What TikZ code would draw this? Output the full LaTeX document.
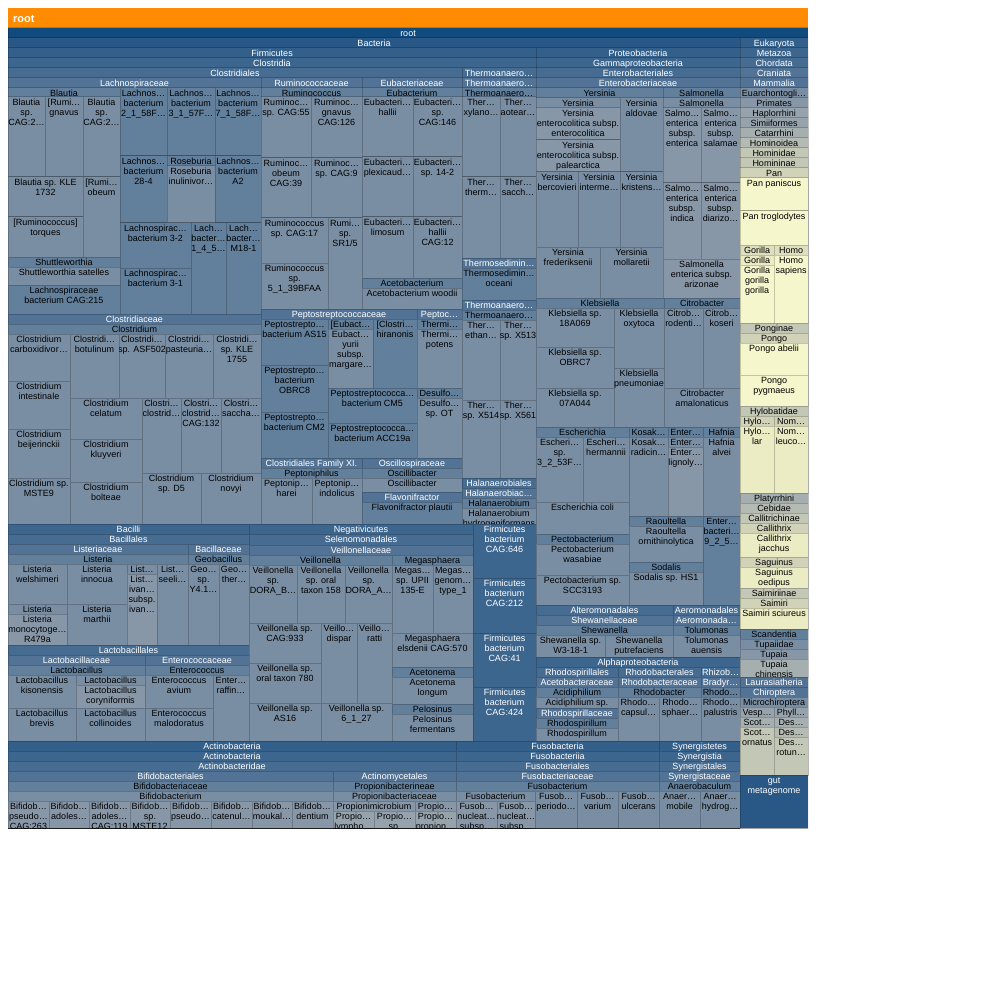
\documentclass[tikz,border=0pt]{standalone}
\usepackage{fontspec}
\setmainfont{Liberation Sans}

% shade levels of the treemap, dark blue to pale yellow
\definecolor{L0}{HTML}{114B7E}
\definecolor{L1}{HTML}{2A5886}
\definecolor{L2}{HTML}{33608B}
\definecolor{L3}{HTML}{3D668F}
\definecolor{L4}{HTML}{476C92}
\definecolor{L5}{HTML}{527395}
\definecolor{L6}{HTML}{627F9B}
\definecolor{L7}{HTML}{7A8EA3}
\definecolor{L8}{HTML}{8797A8}
\definecolor{L9}{HTML}{96A3AC}
\definecolor{L10}{HTML}{A5AFAF}
\definecolor{L11}{HTML}{B4BBB2}
\definecolor{L12}{HTML}{C3C7B5}
\definecolor{L13}{HTML}{D1D3B9}
\definecolor{L14}{HTML}{DEDFBE}
\definecolor{L15}{HTML}{EBEBC4}
\definecolor{L16}{HTML}{F6F6CC}
\definecolor{titlebar}{HTML}{FF8C00}

% one cell: x1 y1 x2 y2 level text
\newcounter{cellno}
\newcommand\cell[6]{%
  \stepcounter{cellno}%
  \ifnum#5<6 \def\cellcol{white}\else\def\cellcol{black}\fi
  \begin{scope}
    \clip (#1,#2) rectangle (#3,#4);
    \filldraw[fill=L#5, border] (#1,#2) rectangle (#3,#4);
    \node[lbl, text=\cellcol] (cell\thecellno) at ({(#1+#3)/2},#2+1) {\rule{0pt}{7pt}#6};
  \end{scope}}

\begin{document}
\begin{tikzpicture}[x=1pt, y=-1pt,
                    border/.style={draw=black, draw opacity=0.2, line width=1pt},
                    lbl/.style={anchor=north, inner sep=0pt, align=center,
                                font=\fontsize{9}{10}\selectfont}]
    \useasboundingbox (0,0) rectangle (1000,1000);
    \fill[white] (0,0) rectangle (1000,1000);
    \fill[titlebar] (8,8) rectangle (808,28);
    \node[anchor=base west, inner sep=0pt, text=white,
          font=\bfseries\fontsize{11}{13}\selectfont] (title) at (13,22.5) {root};

    \cell{8}{28}{808}{828}{0}{root}
    \cell{8}{38}{740}{828}{1}{Bacteria}
    \cell{8}{48}{536}{741}{2}{Firmicutes}
    \cell{8}{58}{536}{524}{3}{Clostridia}
    \cell{8}{68}{462}{524}{4}{Clostridiales}

    % Lachnospiraceae
    \cell{8}{78}{261}{314}{5}{Lachnospiraceae}
    \cell{8}{88}{120}{257}{6}{Blautia}
    \cell{8}{97}{45}{177}{7}{Blautia\\sp.\\CAG:2…}
    \cell{45}{97}{83}{177}{7}{[Rumi…\\gnavus}
    \cell{83}{97}{120}{177}{7}{Blautia\\sp.\\CAG:2…}
    \cell{8}{177}{83}{217}{7}{Blautia sp. KLE\\1732}
    \cell{8}{217}{83}{257}{7}{[Ruminococcus]\\torques}
    \cell{83}{177}{120}{257}{7}{[Rumi…\\obeum}
    \cell{8}{257}{120}{285}{6}{Shuttleworthia}
    \cell{8}{267}{120}{285}{7}{Shuttleworthia satelles}
    \cell{8}{285}{120}{314}{6}{Lachnospiraceae\\bacterium CAG:215}
    \cell{120}{88}{167}{156}{6}{Lachnos…\\bacterium\\2\_1\_58F…}
    \cell{167}{88}{215}{156}{6}{Lachnos…\\bacterium\\3\_1\_57F…}
    \cell{215}{88}{261}{156}{6}{Lachnos…\\bacterium\\7\_1\_58F…}
    \cell{120}{156}{167}{223}{6}{Lachnos…\\bacterium\\28-4}
    \cell{167}{156}{215}{223}{6}{Roseburia}
    \cell{167}{166}{215}{223}{7}{Roseburia\\inulinivor…}
    \cell{215}{156}{261}{223}{6}{Lachnos…\\bacterium\\A2}
    \cell{120}{223}{191}{268}{6}{Lachnospirac…\\bacterium 3-2}
    \cell{120}{268}{191}{314}{6}{Lachnospirac…\\bacterium 3-1}
    \cell{191}{223}{226}{314}{6}{Lach…\\bacter…\\1\_4\_5…}
    \cell{226}{223}{261}{314}{6}{Lach…\\bacter…\\M18-1}

    % Ruminococcaceae and Eubacteriaceae
    \cell{261}{78}{362}{309}{5}{Ruminococcaceae}
    \cell{261}{88}{362}{309}{6}{Ruminococcus}
    \cell{261}{97}{311}{158}{7}{Ruminoc…\\sp. CAG:55}
    \cell{311}{97}{362}{158}{7}{Ruminoc…\\gnavus\\CAG:126}
    \cell{261}{158}{311}{218}{7}{Ruminoc…\\obeum\\CAG:39}
    \cell{311}{158}{362}{218}{7}{Ruminoc…\\sp. CAG:9}
    \cell{261}{218}{328}{263}{7}{Ruminococcus\\sp. CAG:17}
    \cell{261}{263}{328}{309}{7}{Ruminococcus\\sp.\\5\_1\_39BFAA}
    \cell{328}{218}{362}{309}{7}{Rumi…\\sp.\\SR1/5}
    \cell{362}{78}{462}{309}{5}{Eubacteriaceae}
    \cell{362}{88}{462}{278}{6}{Eubacterium}
    \cell{362}{97}{413}{157}{7}{Eubacteri…\\hallii}
    \cell{413}{97}{462}{157}{7}{Eubacteri…\\sp.\\CAG:146}
    \cell{362}{157}{413}{217}{7}{Eubacteri…\\plexicaud…}
    \cell{413}{157}{462}{217}{7}{Eubacteri…\\sp. 14-2}
    \cell{362}{217}{413}{278}{7}{Eubacteri…\\limosum}
    \cell{413}{217}{462}{278}{7}{Eubacteri…\\hallii\\CAG:12}
    \cell{362}{278}{462}{309}{6}{Acetobacterium}
    \cell{362}{288}{462}{309}{7}{Acetobacterium woodii}

    % Clostridiaceae
    \cell{8}{314}{261}{524}{5}{Clostridiaceae}
    \cell{8}{324}{261}{524}{6}{Clostridium}
    \cell{8}{334}{70}{381}{7}{Clostridium\\carboxidivor…}
    \cell{8}{381}{70}{429}{7}{Clostridium\\intestinale}
    \cell{8}{429}{70}{478}{7}{Clostridium\\beijerinckii}
    \cell{8}{478}{70}{524}{7}{Clostridium sp.\\MSTE9}
    \cell{70}{334}{119}{398}{7}{Clostridi…\\botulinum}
    \cell{119}{334}{165}{398}{7}{Clostridi…\\sp. ASF502}
    \cell{165}{334}{213}{398}{7}{Clostridi…\\pasteuria…}
    \cell{213}{334}{261}{398}{7}{Clostridi…\\sp. KLE\\1755}
    \cell{70}{398}{142}{439}{7}{Clostridium\\celatum}
    \cell{70}{439}{142}{482}{7}{Clostridium\\kluyveri}
    \cell{70}{482}{142}{524}{7}{Clostridium\\bolteae}
    \cell{142}{398}{181}{473}{7}{Clostri…\\clostrid…}
    \cell{181}{398}{221}{473}{7}{Clostri…\\clostrid…\\CAG:132}
    \cell{221}{398}{261}{473}{7}{Clostri…\\saccha…}
    \cell{142}{473}{201}{524}{7}{Clostridium\\sp. D5}
    \cell{201}{473}{261}{524}{7}{Clostridium\\novyi}

    % Peptostreptococcaceae, Peptococcaceae
    \cell{261}{309}{417}{458}{5}{Peptostreptococcaceae}
    \cell{261}{319}{328}{365}{6}{Peptostrepto…\\bacterium AS15}
    \cell{261}{365}{328}{412}{6}{Peptostrepto…\\bacterium\\OBRC8}
    \cell{261}{412}{328}{458}{6}{Peptostrepto…\\bacterium CM2}
    \cell{328}{319}{373}{388}{6}{[Eubact…}
    \cell{328}{329}{373}{388}{7}{Eubact…\\yurii\\subsp.\\margare…}
    \cell{373}{319}{417}{388}{6}{[Clostri…\\hiranonis}
    \cell{328}{388}{417}{423}{6}{Peptostreptococca…\\bacterium CM5}
    \cell{328}{423}{417}{458}{6}{Peptostreptococca…\\bacterium ACC19a}
    \cell{417}{309}{462}{458}{5}{Peptoc…}
    \cell{417}{319}{462}{388}{6}{Thermi…}
    \cell{417}{329}{462}{388}{7}{Thermi…\\potens}
    \cell{417}{388}{462}{458}{6}{Desulfo…}
    \cell{417}{398}{462}{458}{7}{Desulfo…\\sp. OT}

    % Family XI, Oscillospiraceae, Flavonifractor
    \cell{261}{458}{362}{524}{5}{Clostridiales Family XI.}
    \cell{261}{468}{362}{524}{6}{Peptoniphilus}
    \cell{261}{478}{312}{524}{7}{Peptonip…\\harei}
    \cell{312}{478}{362}{524}{7}{Peptonip…\\indolicus}
    \cell{362}{458}{462}{492}{5}{Oscillospiraceae}
    \cell{362}{468}{462}{492}{6}{Oscillibacter}
    \cell{362}{478}{462}{492}{7}{Oscillibacter}
    \cell{362}{492}{462}{524}{5}{Flavonifractor}
    \cell{362}{502}{462}{524}{6}{Flavonifractor plautii}

    % Thermoanaerobacterales, Halanaerobiales
    \cell{462}{68}{536}{478}{4}{Thermoanaero…}
    \cell{462}{78}{536}{258}{5}{Thermoanaero…}
    \cell{462}{88}{536}{258}{6}{Thermoanaero…}
    \cell{462}{97}{500}{177}{7}{Ther…\\xylano…}
    \cell{500}{97}{536}{177}{7}{Ther…\\aotear…}
    \cell{462}{177}{500}{258}{7}{Ther…\\therm…}
    \cell{500}{177}{536}{258}{7}{Ther…\\sacch…}
    \cell{462}{258}{536}{300}{5}{Thermosedimin…}
    \cell{462}{268}{536}{300}{6}{Thermosedimin…\\oceani}
    \cell{462}{300}{536}{478}{5}{Thermoanaero…}
    \cell{462}{310}{536}{478}{6}{Thermoanaero…}
    \cell{462}{320}{500}{400}{7}{Ther…\\ethan…}
    \cell{500}{320}{536}{400}{7}{Ther…\\sp. X513}
    \cell{462}{400}{500}{478}{7}{Ther…\\sp. X514}
    \cell{500}{400}{536}{478}{7}{Ther…\\sp. X561}
    \cell{462}{478}{536}{524}{4}{Halanaerobiales}
    \cell{462}{488}{536}{524}{5}{Halanaerobiac…}
    \cell{462}{498}{536}{524}{6}{Halanaerobium}
    \cell{462}{508}{536}{524}{7}{Halanaerobium\\hydrogeniformans}

    % Bacilli
    \cell{8}{524}{249}{741}{3}{Bacilli}
    \cell{8}{534}{249}{645}{4}{Bacillales}
    \cell{8}{544}{188}{645}{5}{Listeriaceae}
    \cell{8}{554}{188}{645}{6}{Listeria}
    \cell{8}{564}{67}{604}{7}{Listeria\\welshimeri}
    \cell{67}{564}{127}{604}{7}{Listeria\\innocua}
    \cell{8}{604}{67}{645}{7}{Listeria}
    \cell{8}{614}{67}{645}{8}{Listeria\\monocytoge…\\R479a}
    \cell{67}{604}{127}{645}{7}{Listeria\\marthii}
    \cell{127}{564}{157}{645}{7}{List…}
    \cell{127}{574}{157}{645}{8}{List…\\ivan…\\subsp.\\ivan…}
    \cell{157}{564}{188}{645}{7}{List…\\seeli…}
    \cell{188}{544}{249}{645}{5}{Bacillaceae}
    \cell{188}{554}{249}{645}{6}{Geobacillus}
    \cell{188}{564}{219}{645}{7}{Geo…\\sp.\\Y4.1…}
    \cell{219}{564}{249}{645}{7}{Geo…\\ther…}
    \cell{8}{645}{249}{741}{4}{Lactobacillales}
    \cell{8}{655}{145}{741}{5}{Lactobacillaceae}
    \cell{8}{665}{145}{741}{6}{Lactobacillus}
    \cell{8}{675}{76}{708}{7}{Lactobacillus\\kisonensis}
    \cell{76}{675}{145}{708}{7}{Lactobacillus}
    \cell{76}{685}{145}{708}{8}{Lactobacillus\\coryniformis}
    \cell{8}{708}{76}{741}{7}{Lactobacillus\\brevis}
    \cell{76}{708}{145}{741}{7}{Lactobacillus\\collinoides}
    \cell{145}{655}{249}{741}{5}{Enterococcaceae}
    \cell{145}{665}{249}{741}{6}{Enterococcus}
    \cell{145}{675}{213}{708}{7}{Enterococcus\\avium}
    \cell{145}{708}{213}{741}{7}{Enterococcus\\malodoratus}
    \cell{213}{675}{249}{741}{7}{Enter…\\raffin…}

    % Negativicutes
    \cell{249}{524}{473}{741}{3}{Negativicutes}
    \cell{249}{534}{473}{741}{4}{Selenomonadales}
    \cell{249}{545}{473}{741}{5}{Veillonellaceae}
    \cell{249}{555}{392}{741}{6}{Veillonella}
    \cell{249}{565}{297}{623}{7}{Veillonella\\sp.\\DORA\_B…}
    \cell{297}{565}{345}{623}{7}{Veillonella\\sp. oral\\taxon 158}
    \cell{345}{565}{392}{623}{7}{Veillonella\\sp.\\DORA\_A…}
    \cell{249}{623}{321}{663}{7}{Veillonella sp.\\CAG:933}
    \cell{249}{663}{321}{703}{7}{Veillonella sp.\\oral taxon 780}
    \cell{249}{703}{321}{741}{7}{Veillonella sp.\\AS16}
    \cell{321}{623}{357}{703}{7}{Veillo…\\dispar}
    \cell{357}{623}{392}{703}{7}{Veillo…\\ratti}
    \cell{321}{703}{392}{741}{7}{Veillonella sp.\\6\_1\_27}
    \cell{392}{555}{473}{667}{6}{Megasphaera}
    \cell{392}{565}{433}{633}{7}{Megas…\\sp. UPII\\135-E}
    \cell{433}{565}{473}{633}{7}{Megas…\\genom…\\type\_1}
    \cell{392}{633}{473}{667}{7}{Megasphaera\\elsdenii CAG:570}
    \cell{392}{667}{473}{704}{6}{Acetonema}
    \cell{392}{677}{473}{704}{7}{Acetonema\\longum}
    \cell{392}{704}{473}{741}{6}{Pelosinus}
    \cell{392}{714}{473}{741}{7}{Pelosinus\\fermentans}

    % Firmicutes bacteria
    \cell{473}{524}{536}{578}{3}{Firmicutes\\bacterium\\CAG:646}
    \cell{473}{578}{536}{633}{3}{Firmicutes\\bacterium\\CAG:212}
    \cell{473}{633}{536}{687}{3}{Firmicutes\\bacterium\\CAG:41}
    \cell{473}{687}{536}{741}{3}{Firmicutes\\bacterium\\CAG:424}

    % Proteobacteria
    \cell{536}{48}{740}{741}{2}{Proteobacteria}
    \cell{536}{58}{740}{657}{3}{Gammaproteobacteria}
    \cell{536}{68}{740}{605}{4}{Enterobacteriales}
    \cell{536}{78}{740}{605}{5}{Enterobacteriaceae}
    \cell{536}{88}{663}{298}{6}{Yersinia}
    \cell{536}{98}{620}{172}{7}{Yersinia}
    \cell{536}{108}{620}{140}{8}{Yersinia\\enterocolitica subsp.\\enterocolitica}
    \cell{536}{140}{620}{172}{8}{Yersinia\\enterocolitica subsp.\\palearctica}
    \cell{620}{98}{663}{172}{7}{Yersinia\\aldovae}
    \cell{536}{172}{578}{247}{7}{Yersinia\\bercovieri}
    \cell{578}{172}{620}{247}{7}{Yersinia\\interme…}
    \cell{620}{172}{663}{247}{7}{Yersinia\\kristens…}
    \cell{536}{247}{600}{298}{7}{Yersinia\\frederiksenii}
    \cell{600}{247}{663}{298}{7}{Yersinia\\mollaretii}
    \cell{663}{88}{740}{298}{6}{Salmonella}
    \cell{663}{98}{740}{298}{7}{Salmonella}
    \cell{663}{108}{701}{183}{8}{Salmo…\\enterica\\subsp.\\enterica}
    \cell{701}{108}{740}{183}{8}{Salmo…\\enterica\\subsp.\\salamae}
    \cell{663}{183}{701}{259}{8}{Salmo…\\enterica\\subsp.\\indica}
    \cell{701}{183}{740}{259}{8}{Salmo…\\enterica\\subsp.\\diarizo…}
    \cell{663}{259}{740}{298}{8}{Salmonella\\enterica subsp.\\arizonae}
    \cell{536}{298}{664}{427}{6}{Klebsiella}
    \cell{536}{308}{614}{347}{7}{Klebsiella sp.\\18A069}
    \cell{536}{347}{614}{388}{7}{Klebsiella sp.\\OBRC7}
    \cell{536}{388}{614}{427}{7}{Klebsiella sp.\\07A044}
    \cell{614}{308}{664}{368}{7}{Klebsiella\\oxytoca}
    \cell{614}{368}{664}{427}{7}{Klebsiella\\pneumoniae}
    \cell{664}{298}{740}{427}{6}{Citrobacter}
    \cell{664}{308}{703}{388}{7}{Citrob…\\rodenti…}
    \cell{703}{308}{740}{388}{7}{Citrob…\\koseri}
    \cell{664}{388}{740}{427}{7}{Citrobacter\\amalonaticus}
    \cell{536}{427}{629}{534}{6}{Escherichia}
    \cell{536}{437}{583}{502}{7}{Escheri…\\sp.\\3\_2\_53F…}
    \cell{583}{437}{629}{502}{7}{Escheri…\\hermannii}
    \cell{536}{502}{629}{534}{7}{Escherichia coli}
    \cell{536}{534}{629}{605}{6}{Pectobacterium}
    \cell{536}{544}{629}{575}{7}{Pectobacterium\\wasabiae}
    \cell{536}{575}{629}{605}{7}{Pectobacterium sp.\\SCC3193}
    \cell{629}{427}{668}{516}{6}{Kosak…}
    \cell{629}{437}{668}{516}{7}{Kosak…\\radicin…}
    \cell{668}{427}{703}{516}{6}{Enter…}
    \cell{668}{437}{703}{516}{7}{Enter…}
    \cell{668}{447}{703}{516}{8}{Enter…\\lignoly…}
    \cell{703}{427}{740}{516}{6}{Hafnia}
    \cell{703}{437}{740}{516}{7}{Hafnia\\alvei}
    \cell{629}{516}{703}{562}{6}{Raoultella}
    \cell{629}{526}{703}{562}{7}{Raoultella\\ornithinolytica}
    \cell{629}{562}{703}{605}{6}{Sodalis}
    \cell{629}{572}{703}{605}{7}{Sodalis sp. HS1}
    \cell{703}{516}{740}{605}{6}{Enter…\\bacteri…\\9\_2\_5…}
    \cell{536}{605}{673}{657}{4}{Alteromonadales}
    \cell{536}{615}{673}{657}{5}{Shewanellaceae}
    \cell{536}{625}{673}{657}{6}{Shewanella}
    \cell{536}{635}{605}{657}{7}{Shewanella sp.\\W3-18-1}
    \cell{605}{635}{673}{657}{7}{Shewanella\\putrefaciens}
    \cell{673}{605}{740}{657}{4}{Aeromonadales}
    \cell{673}{615}{740}{657}{5}{Aeromonada…}
    \cell{673}{625}{740}{657}{6}{Tolumonas}
    \cell{673}{635}{740}{657}{7}{Tolumonas\\auensis}
    \cell{536}{657}{740}{741}{3}{Alphaproteobacteria}
    \cell{536}{667}{618}{741}{4}{Rhodospirillales}
    \cell{536}{677}{618}{708}{5}{Acetobacteraceae}
    \cell{536}{687}{618}{708}{6}{Acidiphilium}
    \cell{536}{697}{618}{708}{7}{Acidiphilium sp.}
    \cell{536}{708}{618}{741}{5}{Rhodospirillaceae}
    \cell{536}{718}{618}{741}{6}{Rhodospirillum}
    \cell{536}{728}{618}{741}{7}{Rhodospirillum}
    \cell{618}{667}{701}{741}{4}{Rhodobacterales}
    \cell{618}{677}{701}{741}{5}{Rhodobacteraceae}
    \cell{618}{687}{701}{741}{6}{Rhodobacter}
    \cell{618}{697}{659}{741}{7}{Rhodo…\\capsul…}
    \cell{659}{697}{701}{741}{7}{Rhodo…\\sphaer…}
    \cell{701}{667}{740}{741}{4}{Rhizob…}
    \cell{701}{677}{740}{741}{5}{Bradyr…}
    \cell{701}{687}{740}{741}{6}{Rhodo…}
    \cell{701}{697}{740}{741}{7}{Rhodo…\\palustris}

    % Actinobacteria
    \cell{8}{741}{456}{828}{2}{Actinobacteria}
    \cell{8}{751}{456}{828}{3}{Actinobacteria}
    \cell{8}{761}{456}{828}{4}{Actinobacteridae}
    \cell{8}{771}{333}{828}{5}{Bifidobacteriales}
    \cell{8}{781}{333}{828}{6}{Bifidobacteriaceae}
    \cell{8}{791}{333}{828}{7}{Bifidobacterium}
    \cell{8}{801}{49}{828}{8}{Bifidob…\\pseudo…\\CAG:263}
    \cell{49}{801}{89}{828}{8}{Bifidob…\\adoles…}
    \cell{89}{801}{130}{828}{8}{Bifidob…\\adoles…\\CAG:119}
    \cell{130}{801}{170}{828}{8}{Bifidob…\\sp.\\MSTE12}
    \cell{170}{801}{211}{828}{8}{Bifidob…\\pseudo…}
    \cell{211}{801}{252}{828}{8}{Bifidob…\\catenul…}
    \cell{252}{801}{292}{828}{8}{Bifidob…\\moukal…}
    \cell{292}{801}{333}{828}{8}{Bifidob…\\dentium}
    \cell{333}{771}{456}{828}{5}{Actinomycetales}
    \cell{333}{781}{456}{828}{6}{Propionibacterineae}
    \cell{333}{791}{456}{828}{7}{Propionibacteriaceae}
    \cell{333}{801}{415}{828}{8}{Propionimicrobium}
    \cell{333}{811}{374}{828}{9}{Propio…\\lympho…}
    \cell{374}{811}{415}{828}{9}{Propio…\\sp.}
    \cell{415}{801}{456}{828}{8}{Propio…}
    \cell{415}{811}{456}{828}{9}{Propio…\\propion…}

    % Fusobacteria, Synergistetes
    \cell{456}{741}{659}{828}{2}{Fusobacteria}
    \cell{456}{751}{659}{828}{3}{Fusobacteriia}
    \cell{456}{761}{659}{828}{4}{Fusobacteriales}
    \cell{456}{771}{659}{828}{5}{Fusobacteriaceae}
    \cell{456}{781}{659}{828}{6}{Fusobacterium}
    \cell{456}{791}{535}{828}{7}{Fusobacterium}
    \cell{456}{801}{497}{828}{8}{Fusob…\\nucleat…\\subsp…}
    \cell{497}{801}{535}{828}{8}{Fusob…\\nucleat…\\subsp…}
    \cell{535}{791}{577}{828}{7}{Fusob…\\periodo…}
    \cell{577}{791}{618}{828}{7}{Fusob…\\varium}
    \cell{618}{791}{659}{828}{7}{Fusob…\\ulcerans}
    \cell{659}{741}{740}{828}{2}{Synergistetes}
    \cell{659}{751}{740}{828}{3}{Synergistia}
    \cell{659}{761}{740}{828}{4}{Synergistales}
    \cell{659}{771}{740}{828}{5}{Synergistaceae}
    \cell{659}{781}{740}{828}{6}{Anaerobaculum}
    \cell{659}{791}{700}{828}{7}{Anaer…\\mobile}
    \cell{700}{791}{740}{828}{7}{Anaer…\\hydrog…}

    % Eukaryota
    \cell{740}{38}{808}{775}{2}{Eukaryota}
    \cell{740}{48}{808}{775}{3}{Metazoa}
    \cell{740}{58}{808}{775}{4}{Chordata}
    \cell{740}{68}{808}{775}{5}{Craniata}
    \cell{740}{78}{808}{775}{5}{Mammalia}
    \cell{740}{88}{808}{677}{7}{Euarchontogli…}
    \cell{740}{98}{808}{629}{8}{Primates}
    \cell{740}{108}{808}{629}{9}{Haplorrhini}
    \cell{740}{118}{808}{629}{9}{Simiiformes}
    \cell{740}{128}{808}{493}{10}{Catarrhini}
    \cell{740}{138}{808}{493}{11}{Hominoidea}
    \cell{740}{148}{808}{406}{12}{Hominidae}
    \cell{740}{158}{808}{323}{12}{Homininae}
    \cell{740}{168}{808}{245}{13}{Pan}
    \cell{740}{178}{808}{211}{16}{Pan paniscus}
    \cell{740}{211}{808}{245}{16}{Pan troglodytes}
    \cell{740}{245}{774}{323}{14}{Gorilla}
    \cell{740}{255}{774}{323}{15}{Gorilla}
    \cell{740}{265}{774}{323}{16}{Gorilla\\gorilla\\gorilla}
    \cell{774}{245}{808}{323}{14}{Homo}
    \cell{774}{255}{808}{323}{16}{Homo\\sapiens}
    \cell{740}{323}{808}{406}{12}{Ponginae}
    \cell{740}{333}{808}{406}{13}{Pongo}
    \cell{740}{343}{808}{375}{16}{Pongo abelii}
    \cell{740}{375}{808}{406}{16}{Pongo\\pygmaeus}
    \cell{740}{406}{808}{493}{12}{Hylobatidae}
    \cell{740}{416}{774}{493}{13}{Hylo…}
    \cell{740}{426}{774}{493}{15}{Hylo…\\lar}
    \cell{774}{416}{808}{493}{13}{Nom…}
    \cell{774}{426}{808}{493}{15}{Nom…\\leuco…}
    \cell{740}{493}{808}{629}{10}{Platyrrhini}
    \cell{740}{503}{808}{588}{11}{Cebidae}
    \cell{740}{513}{808}{588}{12}{Callitrichinae}
    \cell{740}{523}{808}{557}{13}{Callithrix}
    \cell{740}{533}{808}{557}{15}{Callithrix\\jacchus}
    \cell{740}{557}{808}{588}{13}{Saguinus}
    \cell{740}{567}{808}{588}{15}{Saguinus\\oedipus}
    \cell{740}{588}{808}{629}{12}{Saimiriinae}
    \cell{740}{598}{808}{629}{13}{Saimiri}
    \cell{740}{608}{808}{629}{15}{Saimiri sciureus}
    \cell{740}{629}{808}{677}{6}{Scandentia}
    \cell{740}{639}{808}{677}{7}{Tupaiidae}
    \cell{740}{649}{808}{677}{8}{Tupaia}
    \cell{740}{659}{808}{677}{10}{Tupaia\\chinensis}
    \cell{740}{677}{808}{775}{5}{Laurasiatheria}
    \cell{740}{687}{808}{775}{5}{Chiroptera}
    \cell{740}{697}{808}{775}{7}{Microchiroptera}
    \cell{740}{707}{774}{775}{9}{Vesp…}
    \cell{740}{717}{774}{775}{10}{Scot…}
    \cell{740}{727}{774}{775}{12}{Scot…\\ornatus}
    \cell{774}{707}{808}{775}{9}{Phyll…}
    \cell{774}{717}{808}{775}{10}{Des…}
    \cell{774}{727}{808}{775}{11}{Des…}
    \cell{774}{737}{808}{775}{12}{Des…\\rotun…}
    \cell{740}{775}{808}{828}{1}{gut\\metagenome}
\end{tikzpicture}
\end{document}
